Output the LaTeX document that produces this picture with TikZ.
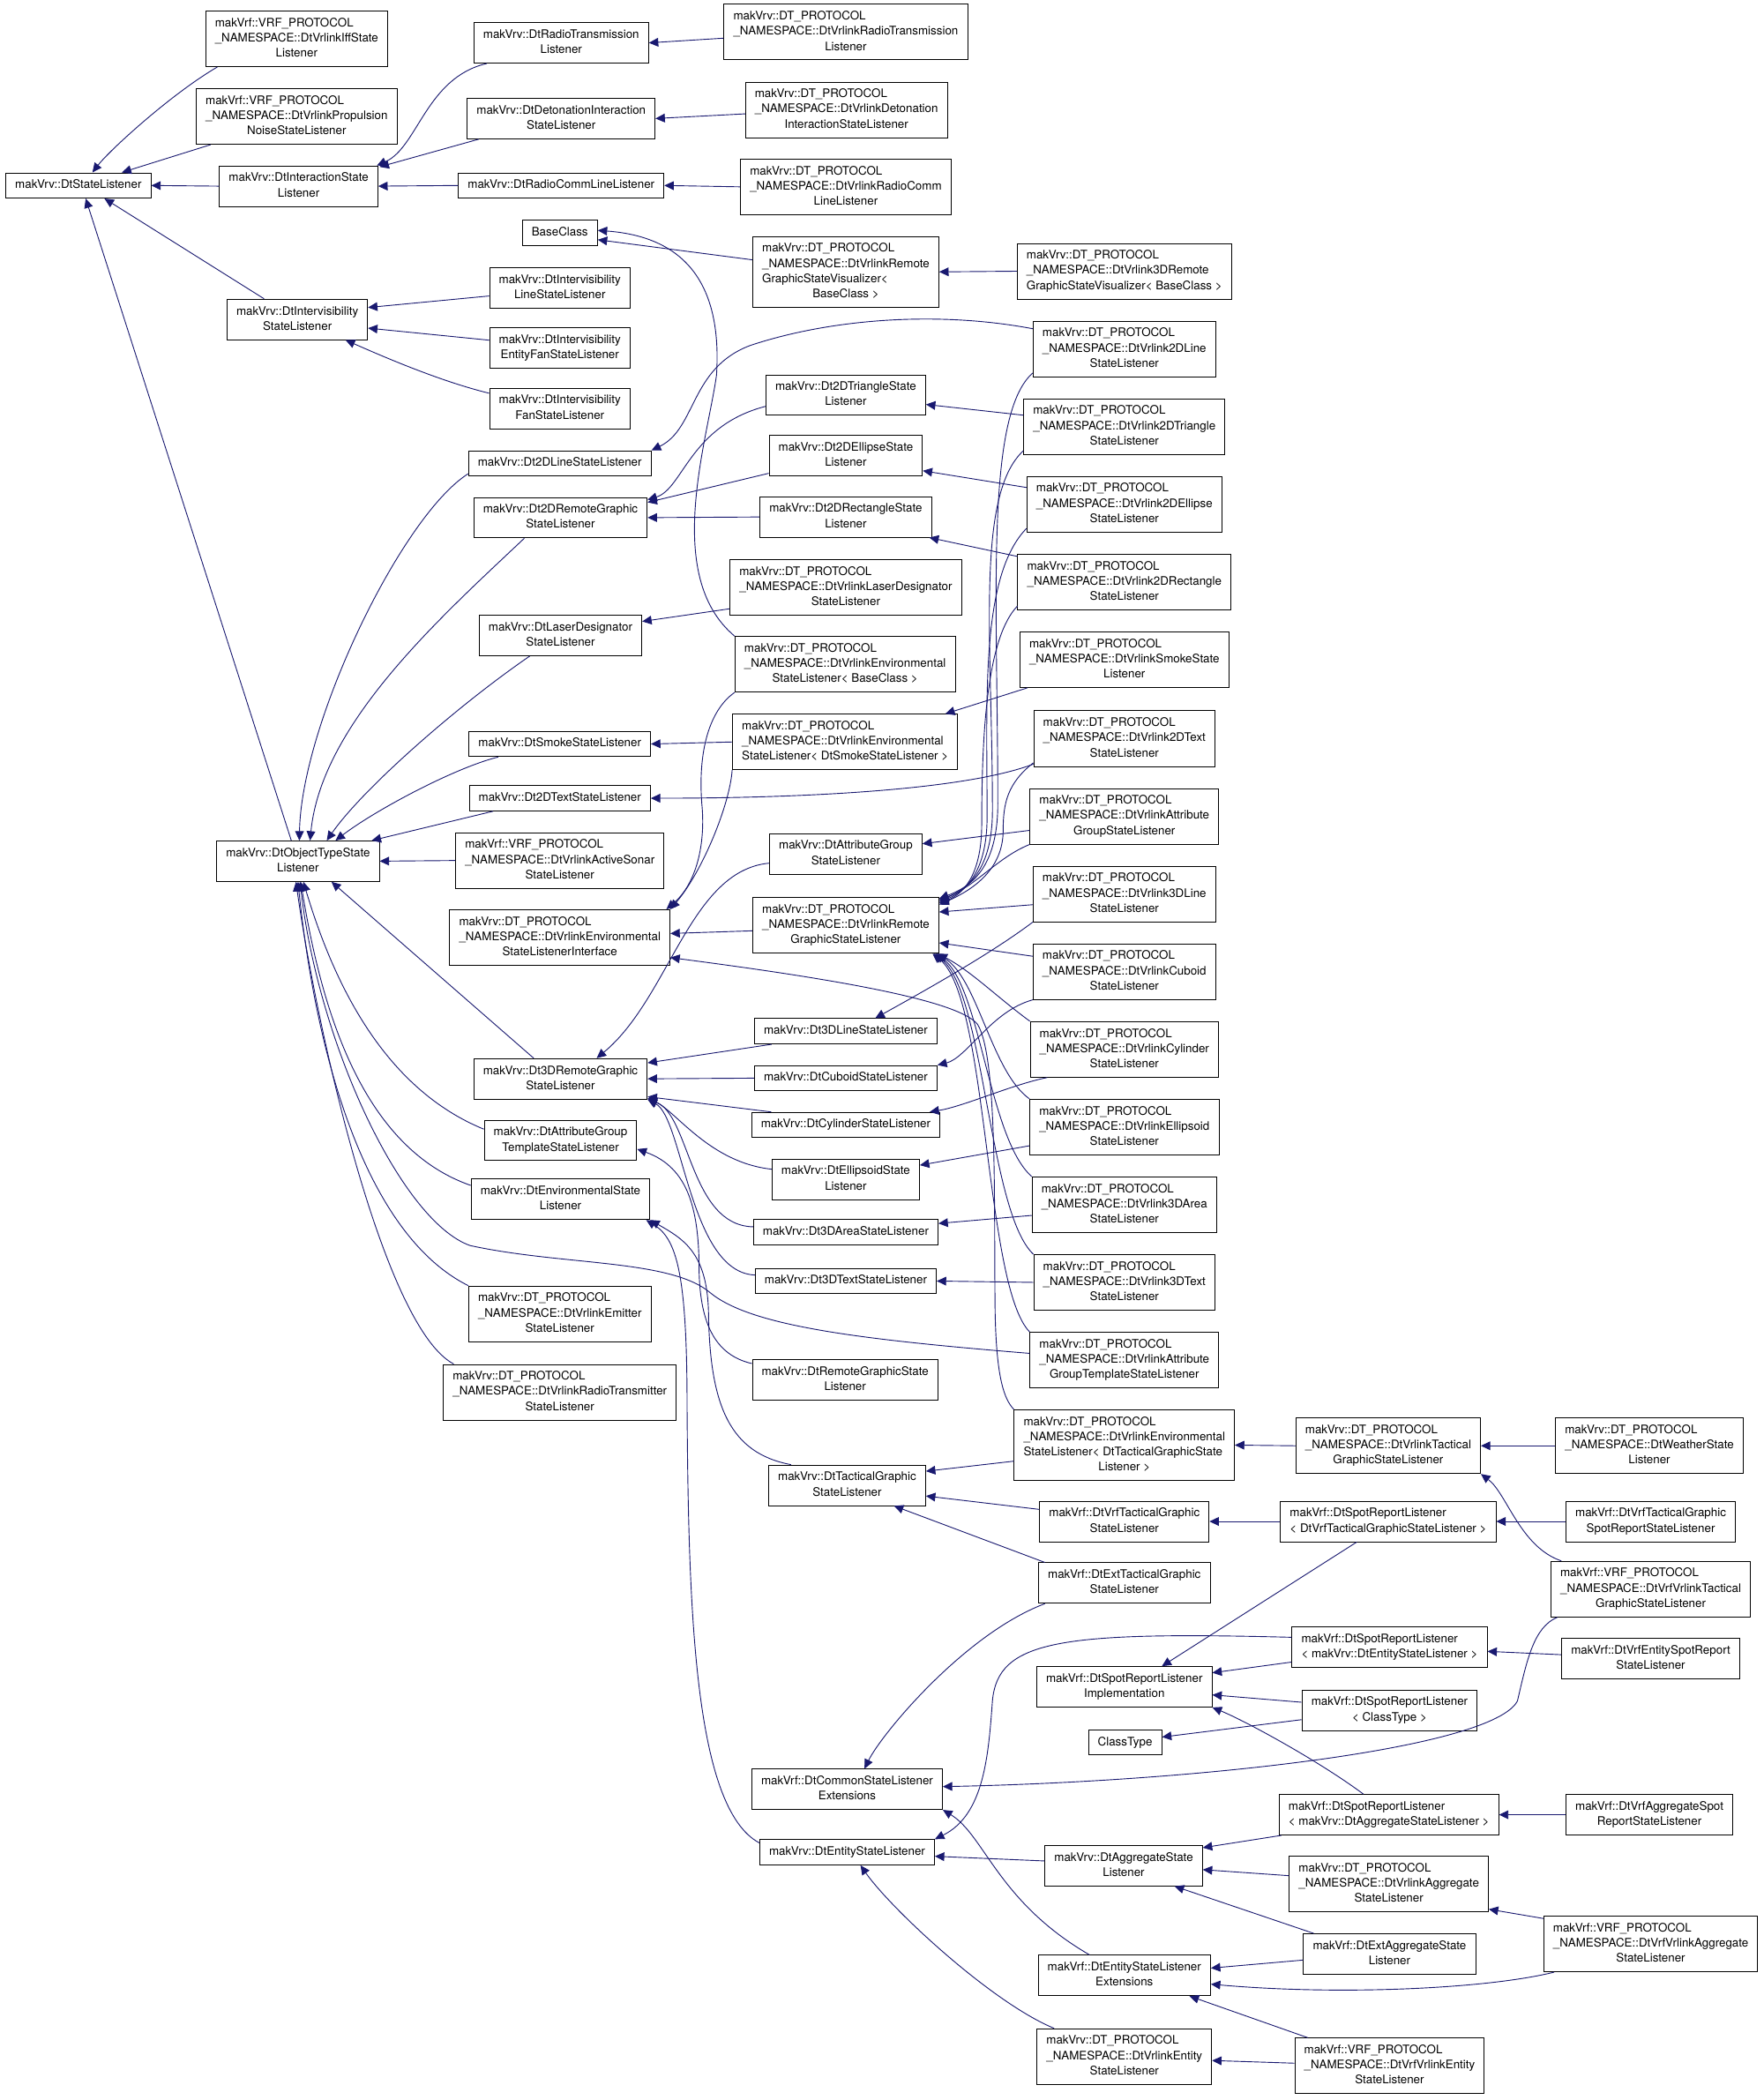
\documentclass[tikz,border=0pt]{standalone}
\usepackage{fontspec}
\setmainfont{TeX Gyre Heros}
\usepackage{tikz}
\usetikzlibrary{arrows.meta}

\definecolor{edgeblue}{HTML}{191970}
\newcommand{\clsfont}{\fontsize{8.8}{11.3}\selectfont}
\newcommand{\clsone}[1]{\begin{tabular}{@{}c@{}}#1\end{tabular}}
\newcommand{\clsmulti}[2]{\begin{tabular}{@{}l@{}}#1\\\multicolumn{1}{@{}c@{}}{#2}\end{tabular}}

\tikzset{
  cls/.style={draw=black, line width=0.6pt, fill=white, inner xsep=7pt, inner ysep=3.8pt, font=\clsfont},
  inh/.style={draw=edgeblue, line width=0.6pt, {Triangle[length=7pt,width=6.5pt]}-}
}

\begin{document}
\begin{tikzpicture}[x=1pt, y=-1pt]
        \path[fill=white, use as bounding box] (0,0) rectangle (1317,1568);

        % Column 1 and 2
        \node[cls] (stateL) at (58.5,138.5) {\clsone{makVrv::DtStateListener}};
        \node[cls] (iff) at (221.5,29) {\clsmulti{makVrf::VRF\_PROTOCOL\\\_NAMESPACE::DtVrlinkIffState}{Listener}};
        \node[cls] (propnoise) at (221.5,87) {\clsmulti{makVrf::VRF\_PROTOCOL\\\_NAMESPACE::DtVrlinkPropulsion}{NoiseStateListener}};
        \node[cls] (interact) at (223,139) {\clsmulti{makVrv::DtInteractionState}{Listener}};
        \node[cls] (intervis) at (222,238.5) {\clsmulti{makVrv::DtIntervisibility}{StateListener}};
        \node[cls] (objtype) at (222.5,643) {\clsmulti{makVrv::DtObjectTypeState}{Listener}};

        % Column 3
        \node[cls] (radiotx) at (419,32) {\clsmulti{makVrv::DtRadioTransmission}{Listener}};
        \node[cls] (detonation) at (419,88.5) {\clsmulti{makVrv::DtDetonationInteraction}{StateListener}};
        \node[cls] (radiocomm) at (419,138.5) {\clsone{makVrv::DtRadioCommLineListener}};
        \node[cls] (baseclass) at (418,174) {\clsone{BaseClass}};
        \node[cls] (ivline) at (418,215) {\clsmulti{makVrv::DtIntervisibility}{LineStateListener}};
        \node[cls] (iventfan) at (418,260) {\clsmulti{makVrv::DtIntervisibility}{EntityFanStateListener}};
        \node[cls] (ivfan) at (418,305) {\clsmulti{makVrv::DtIntervisibility}{FanStateListener}};
        \node[cls] (line2d) at (418,346) {\clsone{makVrv::Dt2DLineStateListener}};
        \node[cls] (remote2d) at (418.5,386.5) {\clsmulti{makVrv::Dt2DRemoteGraphic}{StateListener}};
        \node[cls] (laser) at (418.5,474.5) {\clsmulti{makVrv::DtLaserDesignator}{StateListener}};
        \node[cls] (smoke) at (418,555.5) {\clsone{makVrv::DtSmokeStateListener}};
        \node[cls] (text2d) at (418,596) {\clsone{makVrv::Dt2DTextStateListener}};
        \node[cls] (sonar) at (418,642.5) {\clsmulti{makVrf::VRF\_PROTOCOL\\\_NAMESPACE::DtVrlinkActiveSonar}{StateListener}};
        \node[cls] (envif) at (418,700) {\clsmulti{makVrv::DT\_PROTOCOL\\\_NAMESPACE::DtVrlinkEnvironmental}{StateListenerInterface}};
        \node[cls] (remote3d) at (418.5,805.5) {\clsmulti{makVrv::Dt3DRemoteGraphic}{StateListener}};
        \node[cls] (attrtmpl) at (418.5,851.5) {\clsmulti{makVrv::DtAttributeGroup}{TemplateStateListener}};
        \node[cls] (envstate) at (418.5,895.5) {\clsmulti{makVrv::DtEnvironmentalState}{Listener}};
        \node[cls] (emitter) at (418,981) {\clsmulti{makVrv::DT\_PROTOCOL\\\_NAMESPACE::DtVrlinkEmitter}{StateListener}};
        \node[cls] (radiotxr) at (418,1039.5) {\clsmulti{makVrv::DT\_PROTOCOL\\\_NAMESPACE::DtVrlinkRadioTransmitter}{StateListener}};

        % Column 4
        \node[cls] (vlradiotx) at (631.5,24) {\clsmulti{makVrv::DT\_PROTOCOL\\\_NAMESPACE::DtVrlinkRadioTransmission}{Listener}};
        \node[cls] (vldeton) at (632,82) {\clsmulti{makVrv::DT\_PROTOCOL\\\_NAMESPACE::DtVrlinkDetonation}{InteractionStateListener}};
        \node[cls] (vlradiocomm) at (631.5,139.5) {\clsmulti{makVrv::DT\_PROTOCOL\\\_NAMESPACE::DtVrlinkRadioComm}{LineListener}};
        \node[cls] (visualizer) at (631.5,203) {\clsmulti{makVrv::DT\_PROTOCOL\\\_NAMESPACE::DtVrlinkRemote\\GraphicStateVisualizer<}{BaseClass >}};
        \node[cls] (tri2d) at (631.5,295) {\clsmulti{makVrv::Dt2DTriangleState}{Listener}};
        \node[cls] (ell2d) at (631.5,340) {\clsmulti{makVrv::Dt2DEllipseState}{Listener}};
        \node[cls] (rect2d) at (631.5,386) {\clsmulti{makVrv::Dt2DRectangleState}{Listener}};
        \node[cls] (vllaser) at (631.5,438.5) {\clsmulti{makVrv::DT\_PROTOCOL\\\_NAMESPACE::DtVrlinkLaserDesignator}{StateListener}};
        \node[cls] (envbase) at (631,496) {\clsmulti{makVrv::DT\_PROTOCOL\\\_NAMESPACE::DtVrlinkEnvironmental}{StateListener< BaseClass >}};
        \node[cls] (envsmoke) at (631,554) {\clsmulti{makVrv::DT\_PROTOCOL\\\_NAMESPACE::DtVrlinkEnvironmental}{StateListener< DtSmokeStateListener >}};
        \node[cls] (attrgrp) at (631.5,637.5) {\clsmulti{makVrv::DtAttributeGroup}{StateListener}};
        \node[cls] (vlremote) at (631.5,691) {\clsmulti{makVrv::DT\_PROTOCOL\\\_NAMESPACE::DtVrlinkRemote}{GraphicStateListener}};
        \node[cls] (line3d) at (631.5,770) {\clsone{makVrv::Dt3DLineStateListener}};
        \node[cls] (cuboid) at (631.5,805) {\clsone{makVrv::DtCuboidStateListener}};
        \node[cls] (cylinder) at (631.5,840) {\clsone{makVrv::DtCylinderStateListener}};
        \node[cls] (ellipsoid) at (631.5,880.5) {\clsmulti{makVrv::DtEllipsoidState}{Listener}};
        \node[cls] (area3d) at (631.5,920) {\clsone{makVrv::Dt3DAreaStateListener}};
        \node[cls] (text3d) at (631.5,956.5) {\clsone{makVrv::Dt3DTextStateListener}};
        \node[cls] (remotegfx) at (631,1030.5) {\clsmulti{makVrv::DtRemoteGraphicState}{Listener}};
        \node[cls] (tactical) at (632.5,1109) {\clsmulti{makVrv::DtTacticalGraphic}{StateListener}};
        \node[cls] (commonext) at (632.5,1336) {\clsmulti{makVrf::DtCommonStateListener}{Extensions}};
        \node[cls] (entity) at (632.5,1383) {\clsone{makVrv::DtEntityStateListener}};

        % Column 5
        \node[cls] (visualizer3d) at (839.5,202.5) {\clsmulti{makVrv::DT\_PROTOCOL\\\_NAMESPACE::DtVrlink3DRemote}{GraphicStateVisualizer< BaseClass >}};
        \node[cls] (vlline2d) at (839.5,260.5) {\clsmulti{makVrv::DT\_PROTOCOL\\\_NAMESPACE::DtVrlink2DLine}{StateListener}};
        \node[cls] (vltri2d) at (839.5,318.5) {\clsmulti{makVrv::DT\_PROTOCOL\\\_NAMESPACE::DtVrlink2DTriangle}{StateListener}};
        \node[cls] (vlell2d) at (839.5,376.5) {\clsmulti{makVrv::DT\_PROTOCOL\\\_NAMESPACE::DtVrlink2DEllipse}{StateListener}};
        \node[cls] (vlrect2d) at (839.5,434.5) {\clsmulti{makVrv::DT\_PROTOCOL\\\_NAMESPACE::DtVrlink2DRectangle}{StateListener}};
        \node[cls] (vlsmoke) at (839.5,492.5) {\clsmulti{makVrv::DT\_PROTOCOL\\\_NAMESPACE::DtVrlinkSmokeState}{Listener}};
        \node[cls] (vltext2d) at (839.5,551.5) {\clsmulti{makVrv::DT\_PROTOCOL\\\_NAMESPACE::DtVrlink2DText}{StateListener}};
        \node[cls] (vlattrgrp) at (839.5,609.5) {\clsmulti{makVrv::DT\_PROTOCOL\\\_NAMESPACE::DtVrlinkAttribute}{GroupStateListener}};
        \node[cls] (vlline3d) at (839.5,667.5) {\clsmulti{makVrv::DT\_PROTOCOL\\\_NAMESPACE::DtVrlink3DLine}{StateListener}};
        \node[cls] (vlcuboid) at (839.5,725.5) {\clsmulti{makVrv::DT\_PROTOCOL\\\_NAMESPACE::DtVrlinkCuboid}{StateListener}};
        \node[cls] (vlcylinder) at (839.5,783.5) {\clsmulti{makVrv::DT\_PROTOCOL\\\_NAMESPACE::DtVrlinkCylinder}{StateListener}};
        \node[cls] (vlellipsoid) at (839.5,841.5) {\clsmulti{makVrv::DT\_PROTOCOL\\\_NAMESPACE::DtVrlinkEllipsoid}{StateListener}};
        \node[cls] (vlarea3d) at (839.5,899.5) {\clsmulti{makVrv::DT\_PROTOCOL\\\_NAMESPACE::DtVrlink3DArea}{StateListener}};
        \node[cls] (vltext3d) at (839.5,957.5) {\clsmulti{makVrv::DT\_PROTOCOL\\\_NAMESPACE::DtVrlink3DText}{StateListener}};
        \node[cls] (vlattrtmpl) at (839.5,1015.5) {\clsmulti{makVrv::DT\_PROTOCOL\\\_NAMESPACE::DtVrlinkAttribute}{GroupTemplateStateListener}};
        \node[cls] (envtact) at (839.5,1079) {\clsmulti{makVrv::DT\_PROTOCOL\\\_NAMESPACE::DtVrlinkEnvironmental\\StateListener< DtTacticalGraphicState}{Listener >}};
        \node[cls] (vrftact) at (839.5,1136) {\clsmulti{makVrf::DtVrfTacticalGraphic}{StateListener}};
        \node[cls] (exttact) at (839.5,1182) {\clsmulti{makVrf::DtExtTacticalGraphic}{StateListener}};
        \node[cls] (spotimpl) at (839.5,1259.5) {\clsmulti{makVrf::DtSpotReportListener}{Implementation}};
        \node[cls] (classtype) at (840,1301) {\clsone{ClassType}};
        \node[cls] (aggregate) at (839,1393) {\clsmulti{makVrv::DtAggregateState}{Listener}};
        \node[cls] (entityext) at (839.5,1475) {\clsmulti{makVrf::DtEntityStateListener}{Extensions}};
        \node[cls] (vlentity) at (839.5,1535.5) {\clsmulti{makVrv::DT\_PROTOCOL\\\_NAMESPACE::DtVrlinkEntity}{StateListener}};

        % Column 6 and 7
        \node[cls] (vltact) at (1036.5,1079.5) {\clsmulti{makVrv::DT\_PROTOCOL\\\_NAMESPACE::DtVrlinkTactical}{GraphicStateListener}};
        \node[cls] (spottact) at (1036.5,1136) {\clsmulti{makVrf::DtSpotReportListener}{< DtVrfTacticalGraphicStateListener >}};
        \node[cls] (spotentity) at (1037.5,1230) {\clsmulti{makVrf::DtSpotReportListener}{< makVrv::DtEntityStateListener >}};
        \node[cls] (spotclass) at (1037.5,1277) {\clsmulti{makVrf::DtSpotReportListener}{< ClassType >}};
        \node[cls] (spotagg) at (1037,1355) {\clsmulti{makVrf::DtSpotReportListener}{< makVrv::DtAggregateStateListener >}};
        \node[cls] (vlagg) at (1037,1406.5) {\clsmulti{makVrv::DT\_PROTOCOL\\\_NAMESPACE::DtVrlinkAggregate}{StateListener}};
        \node[cls] (extagg) at (1037.5,1459) {\clsmulti{makVrf::DtExtAggregateState}{Listener}};
        \node[cls] (vrfvlentity) at (1037.5,1542.5) {\clsmulti{makVrf::VRF\_PROTOCOL\\\_NAMESPACE::DtVrfVrlinkEntity}{StateListener}};
        \node[cls] (weather) at (1231.5,1079.5) {\clsmulti{makVrv::DT\_PROTOCOL\\\_NAMESPACE::DtWeatherState}{Listener}};
        \node[cls] (vrftactspot) at (1232.5,1136) {\clsmulti{makVrf::DtVrfTacticalGraphic}{SpotReportStateListener}};
        \node[cls] (vrfvltact) at (1232.5,1186.5) {\clsmulti{makVrf::VRF\_PROTOCOL\\\_NAMESPACE::DtVrfVrlinkTactical}{GraphicStateListener}};
        \node[cls] (vrfentspot) at (1232.5,1238.5) {\clsmulti{makVrf::DtVrfEntitySpotReport}{StateListener}};
        \node[cls] (vrfaggspot) at (1231.5,1355) {\clsmulti{makVrf::DtVrfAggregateSpot}{ReportStateListener}};
        \node[cls] (vrfvlagg) at (1232.5,1451.5) {\clsmulti{makVrf::VRF\_PROTOCOL\\\_NAMESPACE::DtVrfVrlinkAggregate}{StateListener}};

        % Edges into DtStateListener
        \draw[inh] ([xshift=10.5pt]stateL.north) .. controls (82,112) and (128,70) .. ([xshift=9pt]iff.south west);
        \draw[inh] ([xshift=32.5pt]stateL.north) -- ([xshift=11pt]propnoise.south west);
        \draw[inh] (stateL.east) -- (interact.west);
        \draw[inh] ([xshift=19.5pt]stateL.south) -- ([xshift=28pt]intervis.north west);
        \draw[inh] ([xshift=5.5pt]stateL.south) -- ([xshift=-5pt]objtype.north);

        % Interaction and intervisibility
        \draw[inh] ([xshift=-1pt]interact.north east) .. controls (312,110) and (318,58) .. ([xshift=10pt]radiotx.south west);
        \draw[inh] ([xshift=1pt,yshift=-1pt]interact.north east) -- ([xshift=9pt]detonation.south west);
        \draw[inh] (interact.east) -- (radiocomm.west);
        \draw[inh] ([yshift=-6.5pt]intervis.north east) -- ([yshift=-6pt]ivline.west);
        \draw[inh] ([yshift=-6.5pt]intervis.east) -- ([yshift=6pt]iventfan.west);
        \draw[inh] ([xshift=36pt]intervis.south) .. controls (290,268) and (330,285) .. ([yshift=-4pt]ivfan.north west);
        \draw[inh] (radiotx.east) -- ([yshift=-4.5pt]vlradiotx.west);
        \draw[inh] (detonation.east) -- ([yshift=-3pt]vldeton.west);
        \draw[inh] (radiocomm.east) -- (vlradiocomm.west);

        % BaseClass
        \draw[inh] ([yshift=-5pt]baseclass.east) -- ([yshift=9pt]visualizer.west);
        \draw[inh] ([yshift=2pt]baseclass.east) .. controls (500,176) and (540,200) .. (535,280) .. controls (528,330) and (495,430) .. (envbase.north west);
        \draw[inh] (visualizer.east) -- (visualizer3d.west);

        % Edges into DtObjectTypeStateListener
        \draw[inh] ([xshift=1pt]objtype.north) .. controls (225,540) and (300,385) .. ([yshift=2pt]line2d.south west);
        \draw[inh] ([xshift=9pt]objtype.north) .. controls (240,540) and (330,460) .. ([xshift=38pt]remote2d.south west);
        \draw[inh] ([xshift=21.5pt]objtype.north) .. controls (270,590) and (340,528) .. ([xshift=-23pt]laser.south);
        \draw[inh] ([xshift=28pt]objtype.north) .. controls (280,605) and (340,573) .. ([xshift=-46pt]smoke.south);
        \draw[inh] ([xshift=-6pt]objtype.north east) -- ([xshift=18pt]text2d.south west);
        \draw[inh] (objtype.east) -- (sonar.west);
        \draw[inh] ([xshift=25pt]objtype.south) -- ([xshift=45pt]remote3d.north west);
        \draw[inh] ([xshift=4pt]objtype.south) .. controls (245,720) and (280,810) .. ([yshift=-7pt]attrtmpl.north west);
        \draw[inh] ([xshift=2pt]objtype.south) .. controls (238,740) and (265,855) .. ([yshift=-5pt]envstate.north west);
        \draw[inh] (objtype.south) .. controls (235,780) and (270,920) .. (emitter.north west);
        \draw[inh] ([xshift=-1.5pt]objtype.south) .. controls (235,760) and (285,990) .. ([xshift=8pt]radiotxr.north west);
        \draw[inh] ([xshift=1.5pt]objtype.south) .. controls (238,780) and (300,912) .. (351,930) .. controls (420,945) and (500,940) .. (530,965) .. controls (560,990) and (640,1000) .. ([yshift=5pt]vlattrtmpl.west);

        % 2D graphics
        \draw[inh] (line2d.north east) .. controls (520,320) and (515,275) .. (560,258) .. controls (620,238) and (700,232) .. ([yshift=-6pt]vlline2d.north west);
        \draw[inh] ([yshift=-2pt]remote2d.north east) .. controls (510,365) and (515,318) .. ([yshift=7pt]tri2d.south west);
        \draw[inh] ([yshift=-4pt]remote2d.north east) -- ([yshift=2pt]ell2d.south west);
        \draw[inh] (remote2d.east) -- (rect2d.west);
        \draw[inh] ([yshift=-7pt]tri2d.east) -- ([yshift=8.5pt]vltri2d.west);
        \draw[inh] ([yshift=-11.5pt]ell2d.east) -- ([yshift=12.5pt]vlell2d.west);
        \draw[inh] ([xshift=-2pt]rect2d.south east) -- ([yshift=-2pt]vlrect2d.north west);

        % Laser, smoke, text
        \draw[inh] ([yshift=10.5pt]laser.east) -- ([yshift=5pt]vllaser.south west);
        \draw[inh] (smoke.east) -- (envsmoke.west);
        \draw[inh] ([xshift=-9.5pt]envsmoke.north east) -- ([xshift=6pt]vlsmoke.south west);
        \draw[inh] (text2d.east) .. controls (600,596) and (720,590) .. ([yshift=2pt]vltext2d.south west);

        % Environmental interface
        \draw[inh] ([xshift=-3pt]envif.north east) .. controls (520,660) and (527,630) .. (524,600) .. controls (521,560) and (530,530) .. (envbase.south west);
        \draw[inh] (envif.north east) .. controls (525,650) and (545,600) .. (envsmoke.south west);
        \draw[inh] ([yshift=3pt]envif.east) -- ([yshift=-4pt]vlremote.west);
        \draw[inh] ([yshift=-15pt]envif.east) .. controls (600,728) and (715,745) .. (730,765) .. controls (745,790) and (742,900) .. (743,980) .. controls (744,1030) and (750,1045) .. (envtact.north west);

        % Attribute groups and 3D graphics
        \draw[inh] ([yshift=7.5pt]attrgrp.east) -- ([yshift=-10.5pt]vlattrgrp.west);
        \draw[inh] ([xshift=27pt]remote3d.north) .. controls (500,745) and (515,650) .. ([yshift=-7pt]attrgrp.west);
        \draw[inh] ([yshift=-3.5pt]remote3d.north east) -- ([xshift=13pt]line3d.south west);
        \draw[inh] (remote3d.east) -- (cuboid.west);
        \draw[inh] ([yshift=2pt]remote3d.south east) -- ([xshift=15pt]cylinder.north west);
        \draw[inh] ([yshift=1pt]remote3d.south east) .. controls (505,830) and (530,868) .. ([yshift=7.5pt]ellipsoid.west);
        \draw[inh] (remote3d.south east) .. controls (515,832) and (515,915) .. ([yshift=4pt]area3d.west);
        \draw[inh] (remote3d.south east) .. controls (510,835) and (515,950) .. ([yshift=4.5pt]text3d.west);
        \draw[inh] ([xshift=22pt]line3d.north) .. controls (690,740) and (740,712) .. (vlline3d.south west);
        \draw[inh] (cuboid.north east) .. controls (722,790) and (740,755) .. (vlcuboid.south west);
        \draw[inh] ([xshift=-8pt]cylinder.north east) .. controls (720,826) and (755,810) .. ([xshift=13pt]vlcylinder.south west);
        \draw[inh] ([yshift=10.5pt]ellipsoid.east) -- ([yshift=-14pt]vlellipsoid.west);
        \draw[inh] ([yshift=6.5pt]area3d.east) -- ([yshift=-8pt]vlarea3d.west);
        \draw[inh] (text3d.east) -- (vltext3d.west);

        % Remote graphic state listener
        \draw[inh] ([yshift=-1pt]vlremote.north east) .. controls (725,662) and (745,648) .. (745,600) .. controls (745,450) and (735,310) .. ([yshift=3pt]vlline2d.south west);
        \draw[inh] ([yshift=-2.5pt]vlremote.north east) .. controls (722,664) and (741,650) .. (741,605) .. controls (741,480) and (728,370) .. ([yshift=3pt]vltri2d.south west);
        \draw[inh] ([yshift=-3.5pt]vlremote.north east) .. controls (720,666) and (737,652) .. (737,610) .. controls (737,520) and (732,430) .. ([yshift=3pt]vlell2d.south west);
        \draw[inh] ([yshift=-4.5pt]vlremote.north east) .. controls (718,668) and (733,655) .. (733,615) .. controls (733,540) and (738,475) .. ([yshift=3pt]vlrect2d.south west);
        \draw[inh] ([yshift=-5.5pt]vlremote.north east) .. controls (725,665) and (749,650) .. (749,620) .. controls (749,600) and (752,585) .. ([yshift=3pt]vltext2d.south west);
        \draw[inh] ([yshift=-2pt]vlremote.north east) .. controls (728,662) and (745,640) .. (vlattrgrp.south west);
        \draw[inh] ([yshift=-11pt]vlremote.north east) -- ([yshift=-8pt]vlline3d.west);
        \draw[inh] ([yshift=-13pt]vlremote.east) -- ([yshift=11.5pt]vlcuboid.west);
        \draw[inh] ([xshift=-1pt]vlremote.south east) .. controls (725,725) and (745,745) .. (vlcylinder.north west);
        \draw[inh] ([xshift=-2pt]vlremote.south east) .. controls (730,730) and (740,800) .. (vlellipsoid.north west);
        \draw[inh] ([xshift=-3pt]vlremote.south east) .. controls (732,735) and (738,850) .. (vlarea3d.north west);
        \draw[inh] ([xshift=-4pt]vlremote.south east) .. controls (735,740) and (738,905) .. (vltext3d.north west);
        \draw[inh] ([xshift=-5pt]vlremote.south east) .. controls (738,745) and (735,960) .. (vlattrtmpl.north west);

        % Template and environmental state
        \draw[inh] ([yshift=-6.5pt]attrtmpl.east) .. controls (515,872) and (522,905) .. (522,950) .. controls (523,990) and (535,1012) .. ([yshift=-3pt]remotegfx.north west);
        \draw[inh] (envstate.south east) .. controls (510,925) and (528,935) .. (529,980) .. controls (530,1050) and (545,1085) .. ([xshift=17pt]tactical.north west);
        \draw[inh] ([xshift=-3pt]envstate.south east) .. controls (505,925) and (513,950) .. (513,1050) .. controls (514,1200) and (518,1350) .. ([yshift=7pt]entity.west);

        % Tactical graphics
        \draw[inh] ([yshift=10.5pt]tactical.east) -- ([yshift=-12pt]envtact.west);
        \draw[inh] ([yshift=-8pt]tactical.east) -- ([yshift=9pt]vrftact.west);
        \draw[inh] ([xshift=35pt]tactical.south) -- ([xshift=5pt]exttact.north west);
        \draw[inh] (envtact.east) -- (vltact.west);
        \draw[inh] (vltact.east) -- (weather.west);
        \draw[inh] (vltact.south east) .. controls (1125,1115) and (1135,1155) .. ([xshift=8pt]vrfvltact.north west);
        \draw[inh] (vrftact.east) -- (spottact.west);
        \draw[inh] (spottact.east) -- (vrftactspot.west);

        % Common extensions
        \draw[inh] ([xshift=13pt]commonext.north) .. controls (658,1295) and (720,1220) .. ([xshift=5pt]exttact.south west);
        \draw[inh] ([yshift=2pt]commonext.east) .. controls (900,1330) and (1115,1305) .. (1133,1270) .. controls (1140,1240) and (1145,1215) .. ([xshift=5pt]vrfvltact.south west);
        \draw[inh] (commonext.south east) .. controls (735,1370) and (745,1420) .. ([xshift=-26pt]entityext.north);

        % Entity state listener
        \draw[inh] (entity.north east) .. controls (735,1355) and (738,1310) .. (741,1270) .. controls (745,1225) and (790,1218) .. ([yshift=7.5pt]spotentity.west);
        \draw[inh] ([yshift=-3pt]entity.east) -- ([yshift=3.5pt]aggregate.west);
        \draw[inh] ([xshift=10pt]entity.south) .. controls (665,1425) and (740,1495) .. ([xshift=13pt]vlentity.north west);

        % Spot reports
        \draw[inh] ([xshift=28pt]spotimpl.north) -- ([xshift=-23.5pt]spottact.south);
        \draw[inh] ([yshift=10.5pt]spotimpl.east) -- ([yshift=-11pt]spotentity.west);
        \draw[inh] ([yshift=-6pt]spotimpl.east) -- ([yshift=6pt]spotclass.west);
        \draw[inh] ([yshift=4pt]classtype.east) -- ([yshift=-7pt]spotclass.west);
        \draw[inh] (spotimpl.south east) .. controls (930,1285) and (985,1315) .. ([xshift=-19pt]spotagg.north);
        \draw[inh] ([yshift=-3pt]spotentity.east) -- ([yshift=3pt]vrfentspot.west);

        % Aggregates
        \draw[inh] ([yshift=-2pt]aggregate.north east) -- ([xshift=2pt]spotagg.south west);
        \draw[inh] ([yshift=-3pt]aggregate.east) -- ([yshift=6pt]vlagg.west);
        \draw[inh] ([xshift=38pt]aggregate.south) -- ([xshift=8pt]extagg.north west);
        \draw[inh] (spotagg.east) -- (vrfaggspot.west);
        \draw[inh] ([yshift=2pt]vlagg.south east) -- ([yshift=-2pt]vrfvlagg.north west);

        % Entity extensions
        \draw[inh] ([yshift=5.5pt]entityext.east) -- ([yshift=-4.5pt]extagg.west);
        \draw[inh] ([yshift=-6.5pt]entityext.east) .. controls (1000,1490) and (1110,1485) .. ([xshift=8pt]vrfvlagg.south west);
        \draw[inh] ([xshift=-16pt]entityext.south east) -- ([xshift=10pt]vrfvlentity.north west);
        \draw[inh] ([yshift=-3pt]vlentity.east) -- ([yshift=2pt]vrfvlentity.west);
    \end{tikzpicture}
\end{document}
